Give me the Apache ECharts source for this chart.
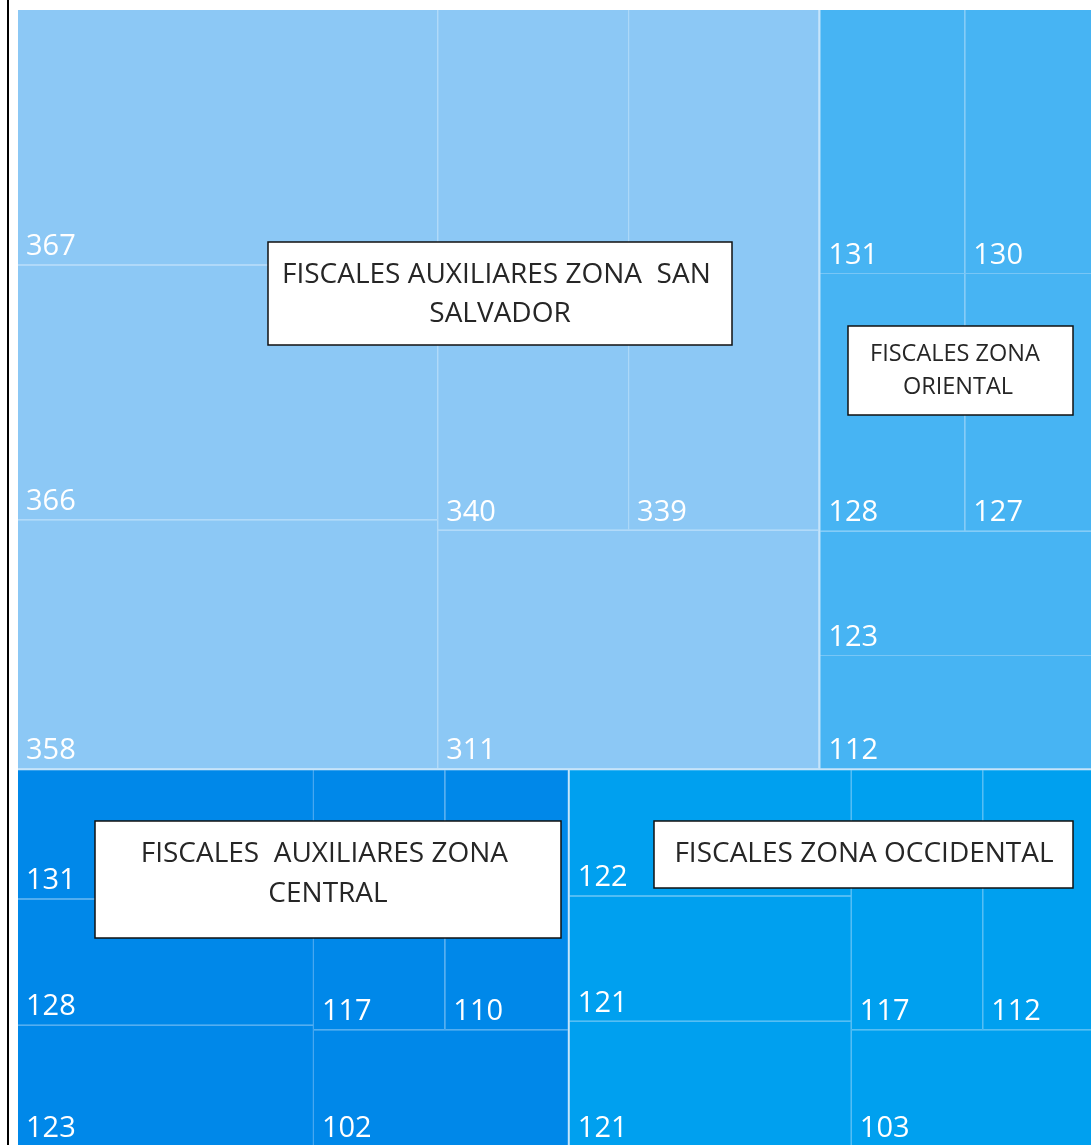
<!DOCTYPE html>
<html>
<head>
<meta charset="utf-8">
<title>Fiscales por zona</title>
<script src="https://cdn.jsdelivr.net/npm/echarts@6/dist/echarts.min.js"></script>
<style>
  html, body { margin: 0; padding: 0; background: #fff; }
  #chart { width: 1091px; height: 1145px; }
</style>
</head>
<body>
<div id="chart"></div>
<script>
  // valores
  var zonas = ['FISCALES AUXILIARES ZONA  SAN SALVADOR', 'FISCALES ZONA ORIENTAL', 'FISCALES  AUXILIARES ZONA CENTRAL', 'FISCALES ZONA OCCIDENTAL']
  var etiquetas = ['FISCALES AUXILIARES ZONA  SAN \nSALVADOR', 'FISCALES ZONA \nORIENTAL', 'FISCALES  AUXILIARES ZONA \nCENTRAL', 'FISCALES ZONA OCCIDENTAL']
  var sanSalvador = [367, 366, 358, 340, 339, 311]
  var oriental = [131, 130, 128, 127, 123, 112]
  var central = [131, 128, 123, 117, 110, 102]
  var occidental = [122, 121, 121, 117, 112, 103]

  var valores = [sanSalvador, oriental, central, occidental]
  var colores = ['#8CC8F5', '#47B4F3', '#0088E9', '#00A0EF']
  var lineas = ['#AAD7F8', '#78C6F6', '#40A4EF', '#45B7F3']

  var datos = zonas.map(function (zona, i) {
    return {
      name: zona,
      itemStyle: {color: colores[i], borderColor: lineas[i]},
      children: valores[i].map(function (v, j) {
        return {name: zona + ' ' + (j + 1), value: v}
      })
    }
  })

  // cuadros de texto encima de cada zona
  var cajas = [
    {x: 268, y: 242, w: 464, h: 103, tx: 500, ty: 295, size: 28, lh: 39},
    {x: 848, y: 326, w: 225, h: 89, tx: 958, ty: 371, size: 23.5, lh: 33},
    {x: 95, y: 821, w: 466, h: 117, tx: 328, ty: 874, size: 28, lh: 40},
    {x: 654, y: 821, w: 419, h: 67, tx: 864, ty: 854, size: 28, lh: 40}
  ]
  var graficos = [{
    type: 'line',
    shape: {x1: 8, y1: 0, x2: 8, y2: 1145},
    style: {stroke: '#000', lineWidth: 2},
    z: 10
  }]
  cajas.forEach(function (c, i) {
    graficos.push({
      type: 'rect',
      shape: {x: c.x, y: c.y, width: c.w, height: c.h},
      style: {fill: '#fff', stroke: '#111', lineWidth: 1.5},
      z: 10
    })
    graficos.push({
      type: 'text',
      x: c.tx,
      y: c.ty,
      style: {
        text: etiquetas[i],
        fill: '#262626',
        font: c.size + 'px "Open Sans"',
        lineHeight: c.lh,
        align: 'center',
        verticalAlign: 'middle'
      },
      z: 11
    })
  })

  var chart = echarts.init(document.getElementById('chart'))
  chart.setOption({
    animation: false,
    tooltip: {show: false},
    graphic: graficos,
    series: [{
      type: 'treemap',
      left: 18,
      top: 10,
      width: 1090,
      height: 1136,
      roam: false,
      nodeClick: false,
      silent: true,
      breadcrumb: {show: false},
      label: {
        show: true,
        position: 'insideBottomLeft',
        distance: 5,
        offset: [-2, 7],
        formatter: '{c}',
        color: '#fff',
        fontSize: 29,
        fontFamily: 'Open Sans'
      },
      upperLabel: {show: false},
      levels: [
        {itemStyle: {borderWidth: 0, gapWidth: 2, borderColor: '#C6E4FA'}},
        {itemStyle: {borderWidth: 0, gapWidth: 1}},
        {itemStyle: {borderWidth: 0}}
      ],
      data: datos
    }]
  })
</script>
</body>
</html>
